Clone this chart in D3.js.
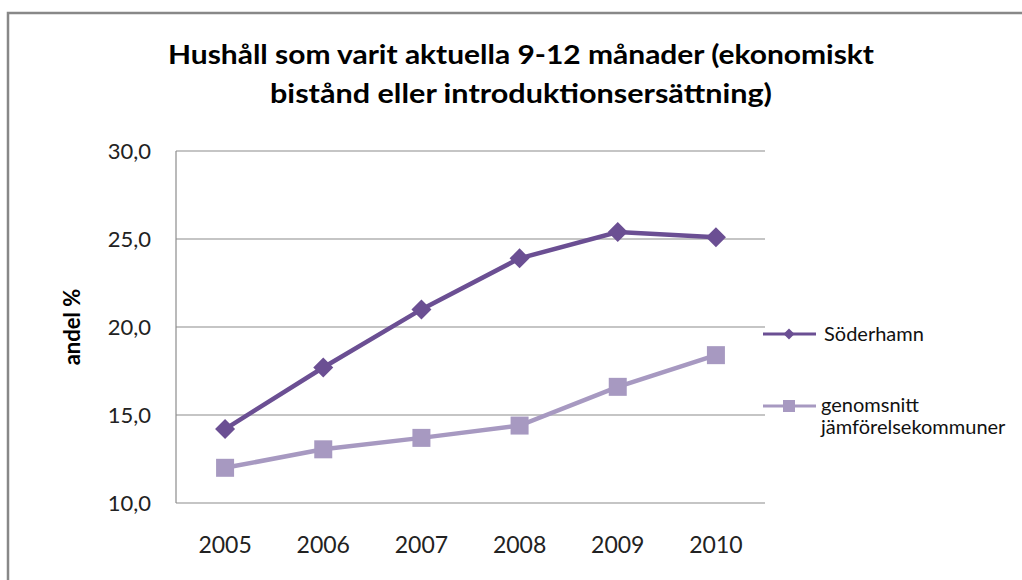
<!DOCTYPE html>
<html><head><meta charset="utf-8">
<script src="https://cdn.jsdelivr.net/npm/d3@7"></script>
<style>body{margin:0;background:#fff}svg{display:block}text{font-family:Lato,"Open Sans",sans-serif}</style>
</head><body>
<svg id="c" width="1022" height="580"></svg>
<script>
const years = ["2005","2006","2007","2008","2009","2010"];
const soderhamn = [14.2, 17.7, 21.0, 23.9, 25.4, 25.1];
const genomsnitt = [12.0, 13.05, 13.7, 14.4, 16.6, 18.4];
const yTicks = [10, 15, 20, 25, 30];
const seriesNames = ["Söderhamn", "genomsnitt jämförelsekommuner"];
const titleLines = ["Hushåll som varit aktuella 9-12 månader (ekonomiskt", "bistånd eller introduktionsersättning)"];
const titleWidths = [706, 502];

const svg = d3.select("#c");
// outer frame
svg.append("path").attr("d","M8,600 V13 H1030").attr("fill","none").attr("stroke","#888").attr("stroke-width",2.5);

const L=176, R=765, T=151, B=503;
const x = d3.scaleBand().domain(years).range([L,R]);
const y = d3.scaleLinear().domain([10,30]).range([B,T]);

// gridlines
svg.append("g").selectAll("line").data(yTicks).join("line")
  .attr("x1",L).attr("x2",R).attr("y1",d=>y(d)).attr("y2",d=>y(d))
  .attr("stroke","#8c8c8c").attr("stroke-width",1.2);
// y axis line
svg.append("line").attr("x1",L).attr("x2",L).attr("y1",T).attr("y2",B).attr("stroke","#8c8c8c").attr("stroke-width",1.2);

// y tick labels
svg.append("g").selectAll("text").data(yTicks).join("text")
  .attr("x",L-25).attr("y",d=>y(d)+8).attr("text-anchor","end")
  .attr("font-size",22).attr("fill","#222").text(d=>d3.format(".1f")(d).replace(".",","));
// x tick labels
svg.append("g").selectAll("text").data(years).join("text")
  .attr("x",d=>x(d)+x.bandwidth()/2).attr("y",553).attr("text-anchor","middle")
  .attr("font-size",23).attr("fill","#222").text(d=>d);

// axis title
svg.append("text").attr("transform","translate(80,327) rotate(-90)").attr("text-anchor","middle")
  .attr("font-size",22).attr("font-weight","bold").attr("fill","#000").text("andel %");

// title
svg.append("g").selectAll("text").data(titleLines).join("text")
  .attr("x",521).attr("y",(d,i)=>63.5+i*39).attr("text-anchor","middle")
  .attr("textLength",(d,i)=>titleWidths[i]).attr("lengthAdjust","spacingAndGlyphs")
  .attr("font-size",27).attr("font-weight","bold").attr("fill","#000").text(d=>d);

const cx = d => x(d)+x.bandwidth()/2;
const line = d3.line().x((d,i)=>cx(years[i])).y(d=>y(d));
const c1 = "#6b4f93", c2 = "#a799c1";

svg.append("path").datum(genomsnitt).attr("d",line).attr("fill","none").attr("stroke",c2).attr("stroke-width",4.5);
svg.append("g").selectAll("rect").data(genomsnitt).join("rect")
  .attr("x",(d,i)=>cx(years[i])-9).attr("y",d=>y(d)-9).attr("width",18).attr("height",18).attr("fill",c2);

svg.append("path").datum(soderhamn).attr("d",line).attr("fill","none").attr("stroke",c1).attr("stroke-width",4.5);
const diamond = (s)=>`M0,${-s}L${s},0L0,${s}L${-s},0Z`;
svg.append("g").selectAll("path").data(soderhamn).join("path")
  .attr("transform",(d,i)=>`translate(${cx(years[i])},${y(d)})`).attr("d",diamond(10)).attr("fill",c1);

// legend
const lg = svg.append("g");
lg.append("line").attr("x1",763).attr("x2",816).attr("y1",334).attr("y2",334).attr("stroke",c1).attr("stroke-width",3);
lg.append("path").attr("transform","translate(789,334)").attr("d",diamond(5.5)).attr("fill",c1);
lg.append("text").attr("x",824).attr("y",341).attr("font-size",20).attr("fill","#111").text(seriesNames[0]);
lg.append("line").attr("x1",763).attr("x2",816).attr("y1",406).attr("y2",406).attr("stroke",c2).attr("stroke-width",3);
lg.append("rect").attr("x",783).attr("y",400).attr("width",12).attr("height",12).attr("fill",c2);
const t2 = lg.append("text").attr("x",821).attr("y",412).attr("font-size",20).attr("fill","#111");
t2.append("tspan").attr("x",821).text(seriesNames[1].split(" ")[0]);
t2.append("tspan").attr("x",821).attr("dy",22).text(seriesNames[1].split(" ")[1]);
</script>
</body></html>
